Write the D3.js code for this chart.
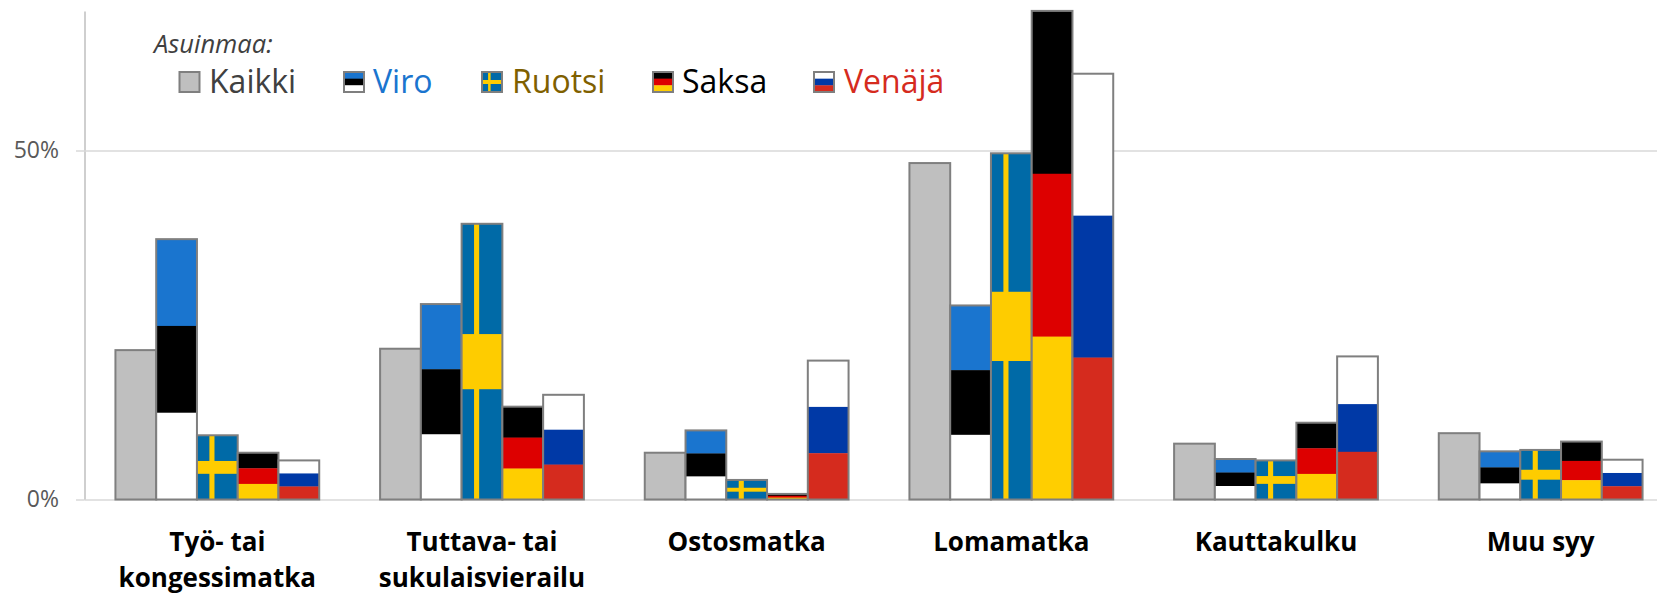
<!DOCTYPE html>
<html>
<head>
<meta charset="utf-8">
<script src="https://cdn.jsdelivr.net/npm/d3@7"></script>
<style>
  html, body { margin: 0; padding: 0; background: #fff; overflow: hidden; }
  text { font-family: "Open Sans", "Noto Sans", sans-serif; }
  .bar-outline { fill: none; stroke: #7f7f7f; stroke-width: 2px; }
  .xlabel { font-weight: 700; font-size: 26px; fill: #000; text-anchor: middle; }
  .axis text { font-size: 23px; fill: #595959; }
  .axis line { stroke: #d9d9d9; stroke-width: 1.5px; }
  .axis .domain { stroke: #bfbfbf; stroke-width: 1.5px; }
</style>
</head>
<body>
<svg id="chart"></svg>
<script>
// *********************************************
// DATA
// *********************************************
var categories = ["Työ- tai kongessimatka", "Tuttava- tai sukulaisvierailu", "Ostosmatka", "Lomamatka", "Kauttakulku", "Muu syy"];
var categoryLines = [["Työ- tai", "kongessimatka"], ["Tuttava- tai", "sukulaisvierailu"], ["Ostosmatka"], ["Lomamatka"], ["Kauttakulku"], ["Muu syy"]];
var seriesNames = ["Kaikki", "Viro", "Ruotsi", "Saksa", "Venäjä"];

var kaikki = [21.4, 21.6, 6.7, 48.2, 8.0, 9.5];
var viro   = [37.3, 28.0, 9.9, 27.8, 5.8, 6.9];
var ruotsi = [9.2, 39.5, 2.8, 49.6, 5.6, 7.1];
var saksa  = [6.7, 13.3, 0.8, 70.0, 11.0, 8.3];
var venaja = [5.6, 15.0, 19.9, 61.0, 20.5, 5.7];
var seriesValues = [kaikki, viro, ruotsi, saksa, venaja];

var yTicks = [0, 50];

// top to bottom
var stripes = [
  ["#bfbfbf"],
  ["#1a75cf", "#000000", "#ffffff"],
  null,
  ["#000000", "#dd0000", "#ffce00"],
  ["#ffffff", "#0039a6", "#d52b1e"]
];
var swedenBlue = "#006aa7", swedenYellow = "#fecc00";
var legendColors = ["#404040", "#1a75cf", "#7f6000", "#000000", "#d52b1e"];

// *********************************************
// SETUP
// *********************************************
var width = 1657, height = 595;
var axisX = 84.5;

var svg = d3.select("#chart")
    .attr("width", width)
    .attr("height", height);

var x0 = d3.scaleBand()
    .domain(categories)
    .range([85, 1673])
    .paddingInner(0.23)
    .paddingOuter(0.115);

var x1 = d3.scaleBand()
    .domain(seriesNames)
    .range([0, x0.bandwidth()]);

var y = d3.scaleLinear()
    .domain([0, 70])
    .range([499.5, 10.9]);

// Axis
var axis = svg.append("g")
    .attr("class", "axis")
    .attr("transform", "translate(" + axisX + ",0)")
    .call(d3.axisLeft(y).tickValues(yTicks).tickSizeInner(8.5).tickSizeOuter(0).tickPadding(17).tickFormat(d => d + "%"));

axis.selectAll(".tick").append("line")
    .attr("x1", 0)
    .attr("x2", width - axisX);

// *********************************************
// BARS
// *********************************************
// draws one flag inside the rect x,y0,w,h
function drawFlag(g, s, x, y0, w, h) {
  if (stripes[s]) {
    g.selectAll("rect.stripe")
      .data(stripes[s])
      .enter().append("rect")
      .attr("class", "stripe")
      .attr("x", x)
      .attr("y", (d, i) => y0 + h * i / stripes[s].length)
      .attr("width", w)
      .attr("height", h / stripes[s].length + 0.3)
      .attr("fill", d => d);
  } else {
    g.append("rect").attr("x", x).attr("y", y0).attr("width", w).attr("height", h).attr("fill", swedenBlue);
    g.append("rect").attr("x", x + w * 0.305).attr("y", y0).attr("width", w * 0.125).attr("height", h).attr("fill", swedenYellow);
    g.append("rect").attr("x", x).attr("y", y0 + h * 0.4).attr("width", w).attr("height", h * 0.2).attr("fill", swedenYellow);
  }
}

categories.forEach(function(cat, c) {
  var group = svg.append("g").attr("transform", "translate(" + x0(cat) + ",0)");
  seriesNames.forEach(function(name, s) {
    var v = seriesValues[s][c];
    var g = group.append("g");
    drawFlag(g, s, x1(name), y(v), x1.bandwidth(), y(0) - y(v));
    g.append("rect")
      .attr("class", "bar-outline")
      .attr("x", x1(name))
      .attr("y", y(v))
      .attr("width", x1.bandwidth())
      .attr("height", y(0) - y(v));
  });

  var label = svg.append("text")
      .attr("class", "xlabel");
  categoryLines[c].forEach(function(line, i) {
    label.append("tspan")
      .attr("x", x0(cat) + x0.bandwidth() / 2)
      .attr("y", 551 + i * 36)
      .text(line);
  });
});

// *********************************************
// LEGEND
// *********************************************
svg.append("text")
    .attr("x", 154)
    .attr("y", 52.5)
    .attr("font-style", "italic")
    .attr("font-size", 25.5)
    .attr("fill", "#404040")
    .text("Asuinmaa:");

var swatchX = [179.5, 344, 482, 653, 814];
var legendTextX = [209, 373, 512, 682, 844];

seriesNames.forEach(function(name, s) {
  var g = svg.append("g");
  drawFlag(g, s, swatchX[s], 72, 20, 20);
  g.append("rect").attr("class", "bar-outline")
    .attr("x", swatchX[s]).attr("y", 72).attr("width", 20).attr("height", 20);
  g.append("text")
    .attr("x", legendTextX[s])
    .attr("y", 92.7)
    .attr("font-size", 32)
    .attr("fill", legendColors[s])
    .text(name);
});
</script>
</body>
</html>
